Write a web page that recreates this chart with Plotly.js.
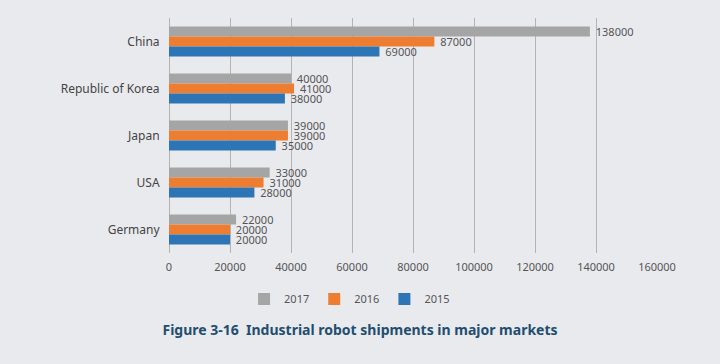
<!DOCTYPE html>
<html>
<head>
<meta charset="utf-8">
<script src="https://cdn.plot.ly/plotly-3.0.1.min.js"></script>
<style>
html,body{margin:0;padding:0;background:#e9eaee;}
#chart{width:720px;height:364px;}
</style>
</head>
<body>
<div id="chart"></div>
<script>
const categories = ["China", "Republic of Korea", "Japan", "USA", "Germany"];
const years = ["2017", "2016", "2015"];
const values2017 = [138000, 40000, 39000, 33000, 22000];
const values2016 = [87000, 41000, 39000, 31000, 20000];
const values2015 = [69000, 38000, 35000, 28000, 20000];
const colors = ["#a5a5a5", "#ed7d31", "#2e75b6"];
const tickVals = [0, 20000, 40000, 60000, 80000, 100000, 120000, 140000, 160000];

const series = [values2017, values2016, values2015];
const traces = series.map((vals, i) => ({
  type: "bar",
  orientation: "h",
  name: years[i],
  y: categories,
  x: vals,
  marker: {color: colors[i]},
  text: vals.map(v => " " + v),
  textposition: "outside",
  constraintext: "none",
  cliponaxis: false,
  textfont: {family: "Noto Sans", size: 11, color: "#555555"},
  hoverinfo: "x+name"
}));

const layout = {
  width: 720,
  height: 364,
  paper_bgcolor: "#e9eaee",
  plot_bgcolor: "#e9eaee",
  font: {family: "Noto Sans", color: "#555555"},
  margin: {l: 169, r: 63, t: 18, b: 111},
  barmode: "group",
  bargap: 0.36,
  bargroupgap: 0,
  showlegend: true,
  legend: {
    orientation: "h",
    x: 0.37, xanchor: "center",
    y: -0.196, yanchor: "middle",
    font: {size: 11, color: "#555555"},
    itemwidth: 30,
    bgcolor: "rgba(0,0,0,0)"
  },
  title: {
    text: "<b>Figure 3-16  Industrial robot shipments in major markets</b>",
    font: {family: "Noto Sans", size: 14, color: "#1f4e6e"},
    x: 0.5, xanchor: "center", xref: "container",
    y: 0.093, yanchor: "middle", yref: "container"
  },
  xaxis: {
    range: [0, 160000],
    tickvals: tickVals,
    ticktext: tickVals.map(String),
    showgrid: true,
    gridcolor: "#b3b3b3",
    gridwidth: 1,
    zeroline: true,
    zerolinecolor: "#b3b3b3",
    showline: false,
    ticks: "outside",
    ticklen: 4,
    tickcolor: "rgba(0,0,0,0)",
    tickfont: {size: 11, color: "#555555"},
    fixedrange: true
  },
  yaxis: {
    autorange: "reversed",
    categoryorder: "array",
    categoryarray: categories,
    showgrid: false,
    zeroline: false,
    showline: false,
    ticks: "outside",
    ticklen: 6,
    tickcolor: "rgba(0,0,0,0)",
    tickfont: {size: 12, color: "#444444"},
    fixedrange: true
  }
};

Plotly.newPlot("chart", traces, layout, {displayModeBar: false, staticPlot: true});
</script>
</body>
</html>
